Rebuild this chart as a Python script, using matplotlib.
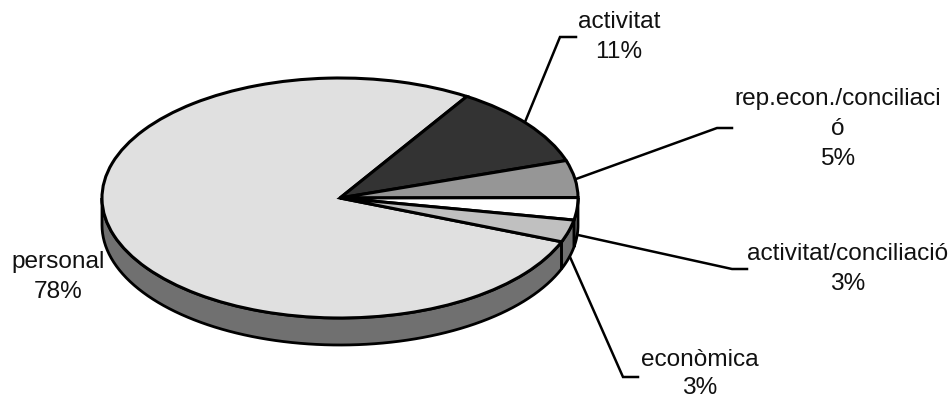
import matplotlib.pyplot as plt
from matplotlib.patches import Polygon
import numpy as np

labels = ["personal", "activitat", "rep.econ./conciliaci\nó", "activitat/conciliació", "econòmica"]
values = [78, 11, 5, 3, 3]
top_colors = ["#e0e0e0", "#333333", "#969696", "#ffffff", "#c0c0c0"]
wall_colors = ["#707070", "#1a1a1a", "#4b4b4b", "#808080", "#707070"]
start_angle = -21.4

# picture geometry in pixels
W, H = 952, 401
cx, cy, rx, ry = 340, 198, 238, 120
depth = 27 / ry

plt.rcParams['font.family'] = ['Liberation Sans', 'DejaVu Sans']
fig = plt.figure(figsize=(W / 100, H / 100), dpi=100)
ax = fig.add_axes([0, 0, 1, 1])

# slices run clockwise from the start angle
edges = start_angle - np.cumsum([0] + values) * 3.6

# side wall of the front half
for i in range(len(values)):
    a0, a1 = edges[i + 1], edges[i]
    for shift in [0, 360]:
        lo2, hi2 = max(a0 + shift, -180), min(a1 + shift, 0)
        if lo2 >= hi2:
            continue
        t = np.radians(np.linspace(lo2, hi2, 80))
        xs = np.r_[np.cos(t), np.cos(t[::-1])]
        ys = np.r_[np.sin(t), np.sin(t[::-1]) - depth]
        ax.add_patch(Polygon(np.c_[xs, ys], closed=True, fc=wall_colors[i], ec="black", lw=2, zorder=1))

ax.pie(values, startangle=start_angle, colors=top_colors, radius=1, counterclock=False,
       wedgeprops=dict(edgecolor="black", linewidth=2.2, zorder=2))
ax.set_aspect('auto')
ax.set_xlim(-cx / rx, (W - cx) / rx)
ax.set_ylim((cy - H) / ry, cy / ry)
ax.axis('off')


def to_data(px, py):
    return (px - cx) / rx, (cy - py) / ry


leaders = [
    [(525, 122), (560, 37), (576, 37)],
    [(576, 179), (717, 128), (732, 128)],
    [(578, 235), (732, 269), (747, 269)],
    [(570, 257), (623, 377), (638, 377)],
]
for pts in leaders:
    d = [to_data(*p) for p in pts]
    ax.plot([p[0] for p in d], [p[1] for p in d], color="black", lw=1.8, solid_joinstyle="miter", zorder=1.5)

texts = [
    ("personal\n78%", 58, 277, 1.45),
    ("activitat\n11%", 619, 37, 1.45),
    ("rep.econ./conciliaci\nó\n5%", 838, 129, 1.45),
    ("activitat/conciliació\n3%", 848, 269, 1.45),
    ("econòmica\n3%", 700, 374, 1.3),
]
for s, px, py, spacing in texts:
    x, y = to_data(px, py)
    ax.text(x, y, s, ha="center", va="center", fontsize=17.6, linespacing=spacing, color="#111111", zorder=4)

fig.savefig("out.png", dpi=100)
